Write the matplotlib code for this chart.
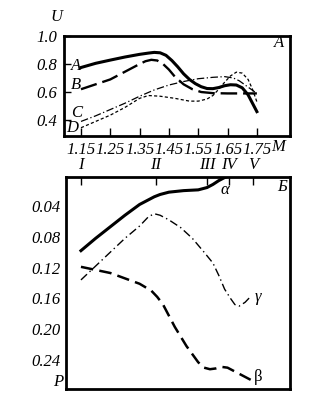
import matplotlib
matplotlib.use("Agg")
import matplotlib.pyplot as plt

plt.rcParams["font.family"] = ["Liberation Serif", "DejaVu Serif"]
plt.rcParams["font.style"] = "italic"

# --- panel A: U vs M ---
mA = [1.15, 1.20, 1.25, 1.30, 1.35, 1.38, 1.40, 1.42, 1.44, 1.46, 1.48, 1.50, 1.52, 1.54, 1.56,
      1.58, 1.60, 1.62, 1.64, 1.66, 1.68, 1.70, 1.72, 1.735, 1.75]
uA = [0.775, 0.805, 0.828, 0.850, 0.869, 0.878, 0.883, 0.880, 0.862, 0.825, 0.78, 0.73, 0.69, 0.66, 0.638,
      0.625, 0.624, 0.632, 0.645, 0.652, 0.65, 0.63, 0.58, 0.52, 0.46]

mB = [1.15, 1.20, 1.25, 1.30, 1.35, 1.37, 1.39, 1.41, 1.43, 1.45, 1.47, 1.50, 1.53, 1.56, 1.60, 1.65, 1.70, 1.75]
uB = [0.62, 0.655, 0.69, 0.745, 0.80, 0.82, 0.83, 0.825, 0.80, 0.76, 0.71, 0.655, 0.62, 0.60, 0.592, 0.59, 0.59, 0.59]

mC = [1.15, 1.20, 1.25, 1.30, 1.35, 1.40, 1.45, 1.50, 1.55, 1.60, 1.64, 1.67, 1.69, 1.71, 1.73, 1.75]
uC = [0.39, 0.43, 0.475, 0.52, 0.57, 0.615, 0.65, 0.675, 0.695, 0.705, 0.71, 0.70, 0.68, 0.65, 0.62, 0.59]

mD = [1.15, 1.20, 1.25, 1.30, 1.35, 1.38, 1.42, 1.47, 1.52, 1.55, 1.58, 1.60, 1.62, 1.64, 1.66, 1.68, 1.70,
      1.72, 1.735, 1.75]
uD = [0.345, 0.39, 0.435, 0.49, 0.555, 0.575, 0.57, 0.555, 0.535, 0.535, 0.55, 0.575, 0.62, 0.67, 0.715, 0.742, 0.735,
      0.69, 0.62, 0.53]

m_ticks = [1.15, 1.25, 1.35, 1.45, 1.55, 1.65, 1.75]
u_ticks = [0.4, 0.6, 0.8, 1.0]
roman = ["I", "II", "III", "IV", "V"]
roman_m = [1.15, 1.406, 1.58, 1.655, 1.737]

# --- panel Б: P vs M ---
m_alpha = [1.15, 1.20, 1.25, 1.30, 1.35, 1.40, 1.42, 1.45, 1.50, 1.55, 1.58, 1.60, 1.62, 1.64, 1.66]
p_alpha = [0.098, 0.082, 0.067, 0.052, 0.038, 0.028, 0.025, 0.022, 0.020, 0.019, 0.016, 0.012, 0.007, 0.003, 0.0]

m_beta = [1.15, 1.20, 1.25, 1.30, 1.35, 1.39, 1.41, 1.43, 1.47, 1.51, 1.55, 1.57, 1.59, 1.61, 1.63, 1.65,
          1.68, 1.73]
p_beta = [0.119, 0.123, 0.127, 0.134, 0.141, 0.150, 0.158, 0.168, 0.197, 0.222, 0.243, 0.250, 0.252, 0.251,
          0.249, 0.250, 0.256, 0.266]

m_gamma = [1.15, 1.20, 1.25, 1.30, 1.35, 1.38, 1.40, 1.42, 1.45, 1.49, 1.53, 1.57, 1.60, 1.62, 1.64, 1.66,
           1.675, 1.69, 1.71, 1.73]
p_gamma = [0.136, 0.118, 0.10, 0.082, 0.066, 0.054, 0.050, 0.052, 0.058, 0.068, 0.082, 0.100, 0.114, 0.13,
           0.148, 0.160, 0.168, 0.170, 0.165, 0.157]

p_ticks = [0.04, 0.08, 0.12, 0.16, 0.20, 0.24]

fig = plt.figure(figsize=(3.21, 4.08), dpi=100)
fs = 12

# top panel
ax1 = fig.add_axes([64/321, 1 - 136/408, 226/321, 100/408])
ax1.plot(mA, uA, color="k", lw=2.2)
ax1.plot(mB, uB, color="k", lw=1.7, dashes=(7, 2.5))
ax1.plot(mC, uC, color="k", lw=0.9, dashes=(6, 2, 1, 2))
ax1.plot(mD, uD, color="k", lw=0.9, dashes=(2.5, 1.8))
ax1.set_xlim(1.092, 1.863)
ax1.set_ylim(0.286, 1.0)
ax1.set_xticks(m_ticks)
ax1.set_xticklabels(["%.2f" % v for v in m_ticks], fontsize=fs)
ax1.set_yticks(u_ticks)
ax1.set_yticklabels(["%.1f" % v for v in u_ticks], fontsize=fs)
ax1.tick_params(axis="x", direction="in", length=6, width=1, pad=4)
ax1.tick_params(axis="y", direction="in", length=5, width=1, pad=5)
for s in ax1.spines.values():
    s.set_linewidth(2)

ax1.text(1.133, 0.786, "A", fontsize=fs, ha="center", va="center")
ax1.text(1.133, 0.65, "B", fontsize=fs, ha="center", va="center")
ax1.text(1.136, 0.45, "C", fontsize=fs, ha="center", va="center")
ax1.text(1.119, 0.343, "D", fontsize=fs, ha="center", va="center")
ax1.text(1.826, 0.95, "A", fontsize=fs, ha="center", va="center")
ax1.text(1.068, 1.136, "U", fontsize=fs, ha="center", va="center", clip_on=False)
ax1.text(1.822, 0.207, "M", fontsize=fs, ha="center", va="center", clip_on=False)
for r, m in zip(roman, roman_m):
    ax1.text(m, 0.079, r, fontsize=fs, ha="center", va="center", clip_on=False)

# bottom panel
ax2 = fig.add_axes([66/321, 1 - 389/408, 224/321, 212/408])
ax2.plot(m_alpha, p_alpha, color="k", lw=2.2)
ax2.plot(m_beta, p_beta, color="k", lw=1.8, dashes=(5, 2.5))
ax2.plot(m_gamma, p_gamma, color="k", lw=1.0, dashes=(6, 2.5, 1, 2.5))
ax2.set_xlim(1.099, 1.863)
ax2.set_ylim(0.2777, 0.0023)
ax2.set_yticks(p_ticks)
ax2.set_yticklabels(["%.2f" % v for v in p_ticks], fontsize=fs)
ax2.tick_params(axis="y", length=0, pad=4)
ax2.set_xticks(roman_m)
ax2.tick_params(axis="x", direction="in", length=6, width=1, top=True, bottom=False,
                labelbottom=False, labeltop=False)
for s in ax2.spines.values():
    s.set_linewidth(2)

ax2.text(1.836, 0.0153, "Б", fontsize=fs, ha="center", va="center")
ax2.text(1.641, 0.0192, "α", fontsize=fs, ha="center", va="center")
ax2.text(1.754, 0.158, "γ", fontsize=fs, ha="center", va="center")
ax2.text(1.754, 0.262, "β", fontsize=fs, ha="center", va="center", style="normal")
ax2.text(1.071, 0.2686, "P", fontsize=fs, ha="center", va="center", clip_on=False)

fig.savefig("out.png", dpi=100)
